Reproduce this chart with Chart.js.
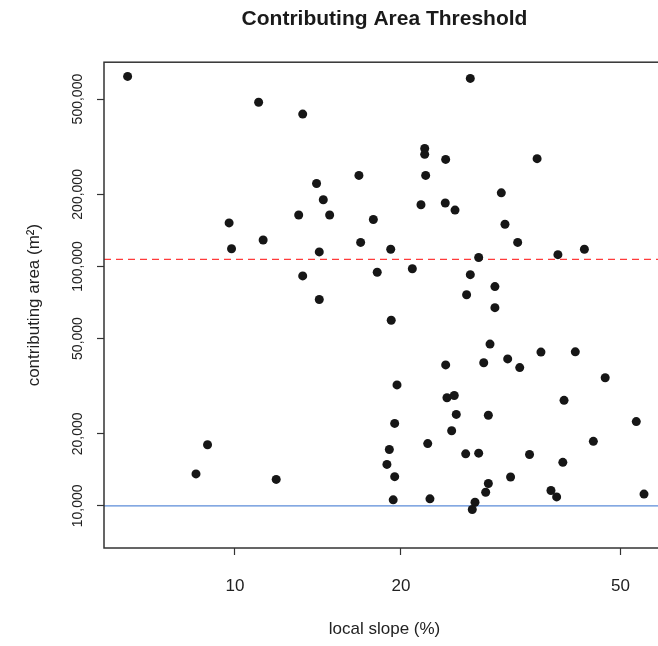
<!DOCTYPE html>
<html>
<head>
<meta charset="utf-8">
<title>Contributing Area Threshold</title>
<script src="https://cdn.jsdelivr.net/npm/chart.js@4.4.1/dist/chart.umd.min.js"></script>
<style>
  html, body { margin: 0; padding: 0; background: #fff; overflow: hidden; }
  canvas { display: block; }
</style>
</head>
<body>
<canvas id="chart" width="680" height="646"></canvas>
<script>
// local slope (%) of each site
const slope = [6.39, 11.04, 13.27, 14.06, 14.46, 13.05, 14.85, 9.76, 11.25, 9.86, 14.22, 13.27, 14.22,
    26.71, 22.08, 22.08, 24.1, 35.3, 16.78, 22.17, 30.4, 21.74, 24.06, 25.06, 17.82, 30.87, 16.9, 19.16,
    32.55, 27.66, 38.5, 43.0, 18.11, 20.97, 26.71, 29.6, 26.3, 29.6, 8.92, 8.5, 11.88, 19.2, 29.0, 24.1,
    28.25, 31.22, 32.83, 35.87, 41.4, 19.67, 46.9, 24.23, 24.98, 39.5, 25.19, 28.8, 19.48, 53.4, 24.71,
    19.05, 22.36, 44.64, 26.2, 27.66, 34.2, 18.86, 39.3, 19.48, 31.6, 28.8, 28.48, 37.4, 38.3, 19.36,
    22.57, 27.24, 26.93, 55.15];

// contributing area (m2), same order
const area = [622000, 485000, 433000, 222000, 190000, 164000, 164000, 152000, 129000, 118500, 115000, 91300, 72800,
    610000, 311000, 294000, 280000, 282000, 240000, 240000, 203000, 181000, 184000, 172000, 157000, 150000, 126000, 118000,
    126000, 109000, 112000, 118000, 94600, 97800, 92400, 82400, 76200, 67300, 18000, 13600, 12900, 59600, 47400, 38800,
    39600, 41100, 37800, 43900, 44000, 32000, 34300, 28300, 28900, 27600, 24100, 23900, 22100, 22500, 20600,
    17200, 18200, 18600, 16500, 16600, 16400, 14900, 15200, 13250, 13200, 12400, 11400, 11600, 10900, 10600,
    10700, 10360, 9660, 11200];

// threshold lines
const upperThreshold = [107000];
const lowerThreshold = [10000];

// axes
const xTicks = [10, 20, 50];
const yTicks = [10000, 20000, 50000, 100000, 200000, 500000];
const xRange = [5.79, 60.2];
const yRange = [6670, 713000];

const FONT = "'Liberation Sans', Arial, Helvetica, sans-serif";
Chart.defaults.font.family = FONT;
Chart.defaults.color = '#222';

const points = slope.map((s, i) => ({ x: s, y: area[i] }));
const hLine = (v) => [{ x: xRange[0], y: v }, { x: xRange[1], y: v }];

// box around the plot region, like R's bty="o"
const plotBox = {
    id: 'plotBox',
    afterDatasetsDraw(chart) {
        const { ctx, chartArea: a } = chart;
        ctx.save();
        ctx.strokeStyle = '#333';
        ctx.lineWidth = 1.5;
        ctx.strokeRect(a.left, a.top, a.right - a.left, a.bottom - a.top);
        ctx.restore();
    }
};

new Chart(document.getElementById('chart').getContext('2d'), {
    type: 'scatter',
    data: {
        datasets: [
            {
                label: 'sites',
                data: points,
                pointRadius: 4.5,
                pointBackgroundColor: '#161616',
                pointBorderWidth: 0,
                order: 0
            },
            {
                label: 'upper',
                data: hLine(upperThreshold[0]),
                showLine: true,
                pointRadius: 0,
                borderColor: '#ff3b3b',
                borderWidth: 1.2,
                borderDash: [7, 5],
                order: 1
            },
            {
                label: 'lower',
                data: hLine(lowerThreshold[0]),
                showLine: true,
                pointRadius: 0,
                borderColor: '#5b8bd8',
                borderWidth: 1.4,
                order: 1
            }
        ]
    },
    options: {
        responsive: false,
        animation: false,
        devicePixelRatio: 1,
        layout: { padding: { left: 0, right: 15, top: 0, bottom: 0 } },
        plugins: {
            legend: { display: false },
            tooltip: { enabled: false },
            title: {
                display: true,
                fullSize: false,
                text: 'Contributing Area Threshold',
                color: '#1a1a1a',
                font: { size: 21, weight: 'bold' },
                padding: { top: 7, bottom: 30 }
            }
        },
        scales: {
            x: {
                type: 'logarithmic',
                min: xRange[0],
                max: xRange[1],
                border: { display: false },
                grid: { display: true, drawOnChartArea: false, drawTicks: true, tickLength: 7, tickColor: '#333', tickWidth: 1.2 },
                afterBuildTicks: (scale) => { scale.ticks = xTicks.map(v => ({ value: v })); },
                afterFit: (scale) => { scale.height = 98; },
                ticks: {
                    autoSkip: false,
                    maxRotation: 0,
                    padding: 21,
                    color: '#222',
                    font: { size: 17 },
                    callback: (v) => String(v)
                },
                title: {
                    display: true,
                    text: 'local slope (%)',
                    color: '#222',
                    font: { size: 17 },
                    padding: { top: 0, bottom: 6 }
                }
            },
            y: {
                type: 'logarithmic',
                min: yRange[0],
                max: yRange[1],
                border: { display: false },
                grid: { display: true, drawOnChartArea: false, drawTicks: true, tickLength: 7, tickColor: '#333', tickWidth: 1.2 },
                afterBuildTicks: (scale) => { scale.ticks = yTicks.map(v => ({ value: v })); },
                afterFit: (scale) => { scale.width = 104; },
                ticks: {
                    autoSkip: false,
                    minRotation: 90,
                    maxRotation: 90,
                    crossAlign: 'center',
                    padding: -6,
                    color: '#222',
                    font: { size: 14 },
                    callback: (v) => Number(v).toLocaleString('en-US')
                },
                title: {
                    display: true,
                    text: 'contributing area (m²)',
                    color: '#222',
                    font: { size: 17 },
                    padding: { top: 24, bottom: 0 }
                }
            }
        }
    },
    plugins: [plotBox]
});
</script>
</body>
</html>
